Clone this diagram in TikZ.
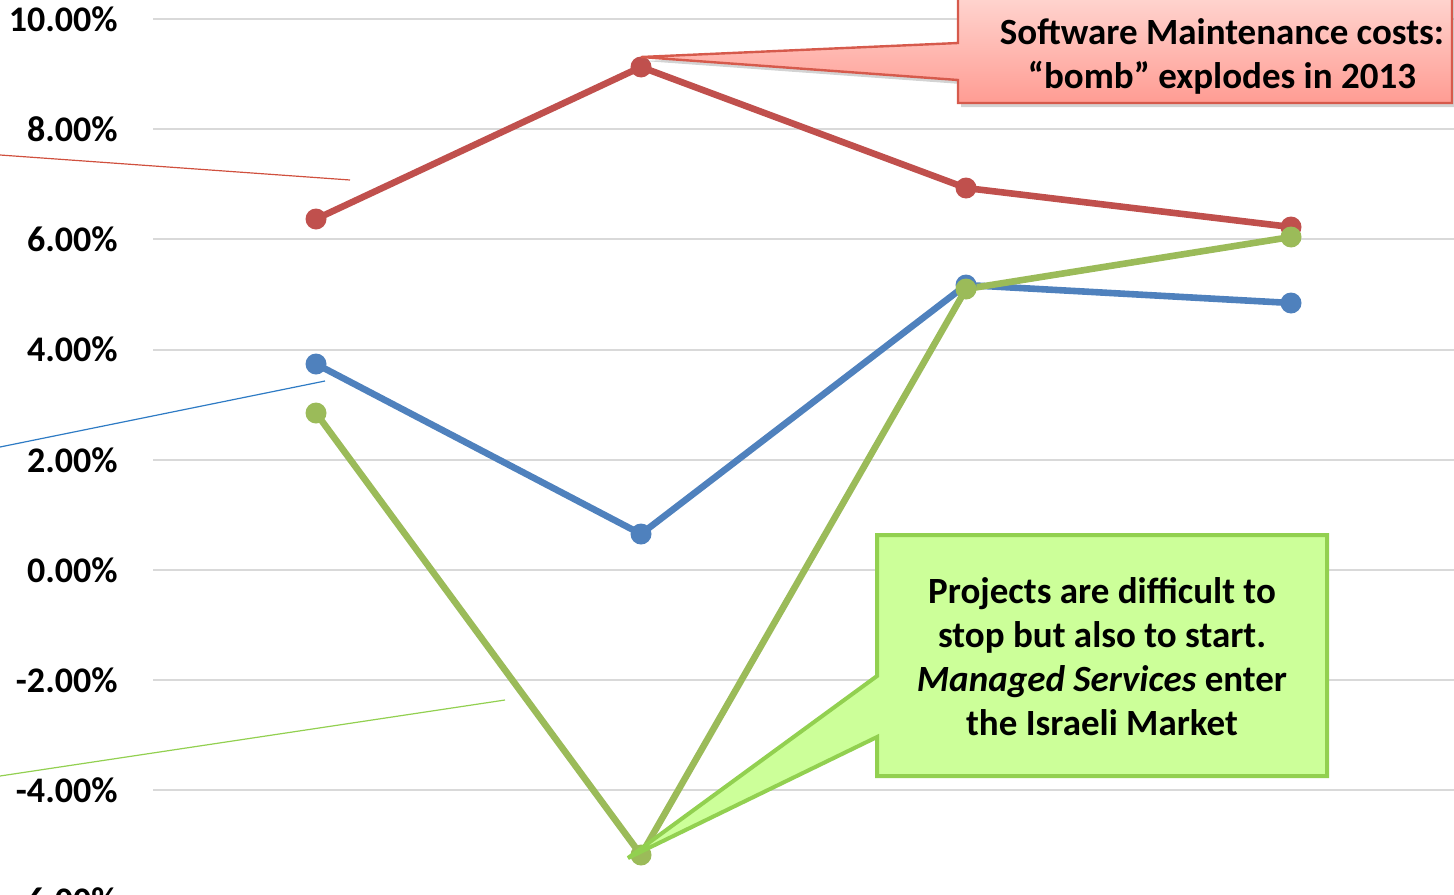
\documentclass[tikz,border=0pt]{standalone}
\usepackage{fontspec}
\setmainfont{Carlito}
\usetikzlibrary{shadows,backgrounds}
\definecolor{serRed}{HTML}{C0504D}
\definecolor{serBlue}{HTML}{4F81BD}
\definecolor{serGreen}{HTML}{9BBB59}
\definecolor{gridGray}{HTML}{D9D9D9}
\definecolor{leadRed}{HTML}{D0503E}
\definecolor{leadBlue}{HTML}{2E7BC4}
\definecolor{leadGreen}{HTML}{92D050}
\definecolor{noteRedTop}{HTML}{FFD8D3}
\definecolor{noteRedBot}{HTML}{FF9C93}
\definecolor{noteRedLine}{HTML}{D65A4C}
\definecolor{noteGreen}{HTML}{CCFF99}
\definecolor{noteGreenLine}{HTML}{92D050}

\begin{document}
\begin{tikzpicture}[x=0.5pt,y=-0.5pt,
    ticklabel/.style={anchor=east,inner sep=0pt,font=\bfseries\fontsize{18}{22}\selectfont},
    gridline/.style={gridGray,line width=1pt},
    series/.style={line width=3.3pt,line join=round},
    dot/.style={circle,fill=#1,inner sep=0pt,minimum size=10.5pt},
    leader/.style={line width=0.6pt,#1},
    notetext/.style={align=center,font=\bfseries\fontsize{18.5}{22}\selectfont}]
  \clip (0,0) rectangle (1454,894);

  % axis
  \begin{scope}[on background layer]
    \foreach \v/\txt in {10/10.00\%,8/8.00\%,6/6.00\%,4/4.00\%,2/2.00\%,0/0.00\%,-2/-2.00\%,-4/-4.00\%,-6/-6.00\%} {
      \draw[gridline] ({153},{570-55.1*(\v)}) -- ({1454},{570-55.1*(\v)});
    }
  \end{scope}
  \foreach \v/\txt in {10/10.00\%,8/8.00\%,6/6.00\%,4/4.00\%,2/2.00\%,0/0.00\%,-2/-2.00\%,-4/-4.00\%,-6/-6.00\%} {
    \node[ticklabel] (tick\v) at ({118},{570-55.1*(\v)}) {\txt};
  }

  % data points
  \node[dot=serBlue] (b1) at (316,364) {};
  \node[dot=serBlue] (b2) at (641,534) {};
  \node[dot=serBlue] (b3) at (966,285) {};
  \node[dot=serBlue] (b4) at (1291,303) {};
  \node[dot=serRed] (r1) at (316,219) {};
  \node[dot=serRed] (r2) at (641,67) {};
  \node[dot=serRed] (r3) at (966,188) {};
  \node[dot=serRed] (r4) at (1291,227) {};
  \node[dot=serGreen] (g1) at (316,413) {};
  \node[dot=serGreen] (g2) at (641,855) {};
  \node[dot=serGreen] (g3) at (966,289) {};
  \node[dot=serGreen] (g4) at (1291,237) {};

  \begin{scope}[on background layer]
    \draw[series,serBlue] (b1.center) -- (b2.center) -- (b3.center) -- (b4.center);
    \draw[series,serRed] (r1.center) -- (r2.center) -- (r3.center) -- (r4.center);
    \draw[series,serGreen] (g1.center) -- (g2.center) -- (g3.center) -- (g4.center);
  \end{scope}

  % leader lines
  \coordinate (redLabEnd) at (0,155);
  \coordinate (redLabTip) at (350,180);
  \coordinate (blueLabEnd) at (0,447);
  \coordinate (blueLabTip) at (325,381);
  \coordinate (greenLabEnd) at (0,776);
  \coordinate (greenLabTip) at (505,700);
  \draw[leader=leadRed] (redLabEnd) -- (redLabTip);
  \draw[leader=leadBlue] (blueLabEnd) -- (blueLabTip);
  \draw[leader=leadGreen] (greenLabEnd) -- (greenLabTip);

  % callouts
  \path[draw=noteRedLine,line width=1.2pt,top color=noteRedTop,bottom color=noteRedBot,
        drop shadow={opacity=0.35,shadow xshift=1.5pt,shadow yshift=-2pt}]
    (958,-10) -- (958,43) -- (641,57) -- (958,80) -- (958,103) -- (1452,103) -- (1452,-10) -- cycle;
  \node[notetext] (bombNote) at (1222,56) {Software Maintenance costs:\\“bomb” explodes in 2013};

  \path[draw=noteGreenLine,line width=2pt,fill=noteGreen]
    (877,535) -- (1327,535) -- (1327,776) -- (877,776) -- (877,737) -- (628,858) -- (877,676) -- cycle;
  \node[notetext] (projNote) at (1102,657) {Projects are difficult to\\stop but also to start.\\\textit{Managed Services} enter\\the Israeli Market};
\end{tikzpicture}
\end{document}
